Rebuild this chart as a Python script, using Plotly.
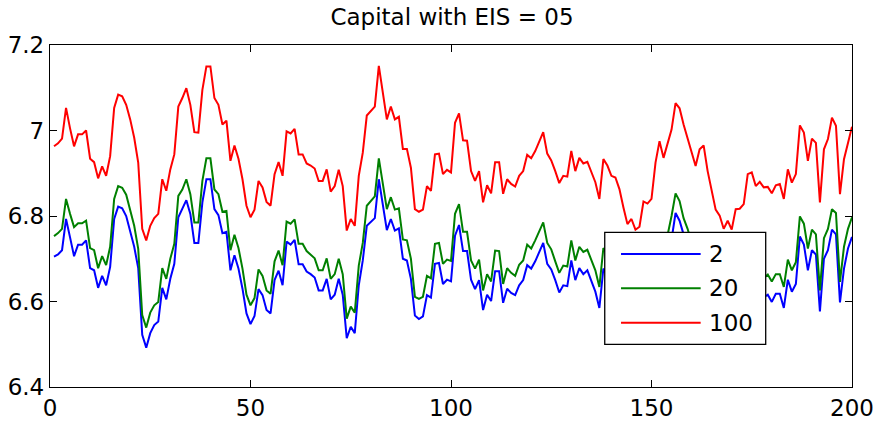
import plotly.graph_objects as go

# Capital paths for three levels of the EIS parameter, periods 1..200
periods = list(range(1, 201))

capital_2 = [
    6.705, 6.710, 6.720, 6.793, 6.750, 6.706, 6.733, 6.733, 6.743, 6.678,
    6.673, 6.632, 6.660, 6.638, 6.681, 6.793, 6.822, 6.818, 6.800, 6.766,
    6.728, 6.678, 6.522, 6.492, 6.526, 6.545, 6.553, 6.632, 6.605, 6.653,
    6.688, 6.797, 6.816, 6.837, 6.805, 6.737, 6.737, 6.832, 6.886, 6.886,
    6.816, 6.802, 6.760, 6.763, 6.673, 6.708, 6.677, 6.630, 6.572, 6.547,
    6.566, 6.629, 6.615, 6.580, 6.572, 6.650, 6.672, 6.638, 6.740, 6.733,
    6.744, 6.687, 6.687, 6.670, 6.664, 6.656, 6.626, 6.626, 6.653, 6.605,
    6.616, 6.653, 6.616, 6.514, 6.541, 6.526, 6.638, 6.696, 6.777, 6.787,
    6.795, 6.886, 6.828, 6.767, 6.793, 6.766, 6.771, 6.700, 6.696, 6.653,
    6.567, 6.559, 6.565, 6.615, 6.609, 6.688, 6.690, 6.641, 6.651, 6.647,
    6.754, 6.779, 6.718, 6.718, 6.651, 6.629, 6.650, 6.580, 6.616, 6.601,
    6.671, 6.671, 6.597, 6.630, 6.620, 6.615, 6.638, 6.650, 6.685, 6.677,
    6.694, 6.716, 6.737, 6.688, 6.675, 6.650, 6.621, 6.638, 6.636, 6.696,
    6.650, 6.678, 6.664, 6.673, 6.646, 6.623, 6.585, 6.677, 6.660, 6.640,
    6.633, 6.605, 6.565, 6.525, 6.535, 6.515, 6.520, 6.578, 6.572, 6.583,
    6.668, 6.718, 6.680, 6.710, 6.745, 6.807, 6.789, 6.757, 6.726, 6.695,
    6.660, 6.700, 6.708, 6.648, 6.602, 6.558, 6.545, 6.500, 6.532, 6.515,
    6.560, 6.560, 6.570, 6.640, 6.645, 6.613, 6.623, 6.610, 6.616, 6.599,
    6.618, 6.618, 6.585, 6.651, 6.623, 6.641, 6.752, 6.733, 6.673, 6.720,
    6.710, 6.577, 6.700, 6.720, 6.768, 6.757, 6.598, 6.677, 6.724, 6.751,
]

capital_20 = [
    6.753, 6.760, 6.770, 6.840, 6.805, 6.774, 6.783, 6.783, 6.789, 6.725,
    6.720, 6.678, 6.706, 6.685, 6.728, 6.840, 6.870, 6.866, 6.850, 6.816,
    6.777, 6.723, 6.568, 6.539, 6.574, 6.591, 6.599, 6.678, 6.653, 6.700,
    6.735, 6.847, 6.862, 6.886, 6.851, 6.785, 6.785, 6.882, 6.935, 6.935,
    6.862, 6.851, 6.810, 6.812, 6.720, 6.756, 6.725, 6.677, 6.616, 6.591,
    6.608, 6.675, 6.660, 6.626, 6.618, 6.694, 6.719, 6.685, 6.787, 6.782,
    6.792, 6.735, 6.735, 6.718, 6.709, 6.701, 6.673, 6.673, 6.701, 6.653,
    6.664, 6.700, 6.664, 6.560, 6.588, 6.574, 6.684, 6.737, 6.824, 6.835,
    6.846, 6.935, 6.878, 6.816, 6.844, 6.815, 6.818, 6.745, 6.743, 6.700,
    6.611, 6.606, 6.611, 6.660, 6.654, 6.735, 6.737, 6.688, 6.698, 6.695,
    6.805, 6.828, 6.763, 6.763, 6.696, 6.677, 6.698, 6.626, 6.664, 6.647,
    6.719, 6.718, 6.641, 6.678, 6.667, 6.660, 6.686, 6.696, 6.733, 6.724,
    6.743, 6.763, 6.785, 6.737, 6.722, 6.694, 6.667, 6.684, 6.682, 6.743,
    6.696, 6.728, 6.716, 6.721, 6.696, 6.673, 6.634, 6.725, 6.710, 6.685,
    6.680, 6.655, 6.610, 6.570, 6.585, 6.560, 6.565, 6.625, 6.620, 6.630,
    6.715, 6.760, 6.725, 6.755, 6.800, 6.853, 6.835, 6.795, 6.770, 6.740,
    6.705, 6.745, 6.755, 6.695, 6.650, 6.605, 6.590, 6.560, 6.580, 6.560,
    6.605, 6.610, 6.620, 6.690, 6.690, 6.660, 6.670, 6.655, 6.663, 6.647,
    6.664, 6.664, 6.634, 6.698, 6.673, 6.692, 6.799, 6.782, 6.724, 6.768,
    6.757, 6.626, 6.748, 6.770, 6.816, 6.807, 6.646, 6.728, 6.770, 6.797,
]

capital_100 = [
    6.963, 6.970, 6.981, 7.053, 7.005, 6.963, 6.991, 6.991, 7.000, 6.934,
    6.926, 6.888, 6.916, 6.894, 6.940, 7.053, 7.084, 7.080, 7.060, 7.026,
    6.983, 6.925, 6.770, 6.743, 6.777, 6.795, 6.805, 6.886, 6.859, 6.909,
    6.944, 7.056, 7.076, 7.099, 7.060, 6.996, 6.995, 7.095, 7.150, 7.150,
    7.076, 7.060, 7.014, 7.023, 6.929, 6.965, 6.934, 6.886, 6.824, 6.797,
    6.815, 6.882, 6.867, 6.833, 6.824, 6.898, 6.926, 6.894, 6.998, 6.993,
    7.004, 6.944, 6.944, 6.923, 6.918, 6.911, 6.882, 6.882, 6.909, 6.857,
    6.870, 6.908, 6.870, 6.766, 6.793, 6.777, 6.894, 6.948, 7.035, 7.045,
    7.056, 7.151, 7.088, 7.026, 7.056, 7.026, 7.032, 6.957, 6.957, 6.913,
    6.816, 6.810, 6.815, 6.870, 6.859, 6.944, 6.946, 6.898, 6.908, 6.902,
    7.018, 7.040, 6.977, 6.976, 6.905, 6.882, 6.905, 6.832, 6.872, 6.853,
    6.926, 6.926, 6.852, 6.886, 6.875, 6.869, 6.894, 6.905, 6.943, 6.935,
    6.952, 6.975, 6.996, 6.946, 6.930, 6.905, 6.877, 6.894, 6.892, 6.952,
    6.905, 6.936, 6.923, 6.927, 6.902, 6.879, 6.840, 6.933, 6.918, 6.894,
    6.890, 6.863, 6.820, 6.781, 6.793, 6.768, 6.775, 6.834, 6.829, 6.840,
    6.925, 6.975, 6.936, 6.967, 7.002, 7.064, 7.052, 7.014, 6.983, 6.952,
    6.917, 6.956, 6.965, 6.905, 6.859, 6.815, 6.801, 6.770, 6.789, 6.768,
    6.816, 6.817, 6.828, 6.898, 6.902, 6.870, 6.880, 6.867, 6.868, 6.853,
    6.872, 6.875, 6.840, 6.909, 6.878, 6.898, 7.012, 6.995, 6.929, 6.981,
    6.971, 6.832, 6.956, 6.980, 7.030, 7.011, 6.851, 6.933, 6.971, 7.009,
]

series_names = ["2", "20", "100"]
series_colors = ["#0000ff", "#008000", "#ff0000"]
series_values = [capital_2, capital_20, capital_100]

x_ticks = [0, 50, 100, 150, 200]
y_ticks = [6.4, 6.6, 6.8, 7.0, 7.2]

FONT = "DejaVu Sans, Verdana, sans-serif"
FONT_SIZE = 23

fig = go.Figure()
for name, color, values in zip(series_names, series_colors, series_values):
    fig.add_trace(go.Scatter(
        x=periods, y=values, mode="lines", name=name,
        line=dict(color=color, width=2), showlegend=False,
    ))

# Boxed legend in the lower right, drawn over the lines
lx0, lx1, ly0, ly1 = 0.6917, 0.8924, 0.1249, 0.4523
fig.add_shape(type="rect", xref="paper", yref="paper",
              x0=lx0, x1=lx1, y0=ly0, y1=ly1,
              fillcolor="white", line=dict(color="black", width=1.3),
              layer="above")
row_y = [0.3889, 0.2886, 0.188]
for name, color, yy in zip(series_names, series_colors, row_y):
    fig.add_shape(type="line", xref="paper", yref="paper",
                  x0=0.712, x1=0.8113, y0=yy, y1=yy,
                  line=dict(color=color, width=2), layer="above")
    fig.add_annotation(xref="paper", yref="paper", x=0.819, y=yy,
                       text=name, showarrow=False, xanchor="left",
                       yanchor="middle",
                       font=dict(family=FONT, size=FONT_SIZE, color="black"))

axis_common = dict(
    showgrid=False, zeroline=False, showline=True, linecolor="black",
    linewidth=1.3, mirror="ticks", ticks="inside", ticklen=7,
    tickwidth=1, tickcolor="black", automargin=False,
    tickfont=dict(family=FONT, size=FONT_SIZE, color="black"),
)

fig.update_layout(
    width=875, height=422,
    margin=dict(l=50, r=23, t=45, b=35),
    paper_bgcolor="white", plot_bgcolor="white",
    title=dict(text="Capital with EIS = 05", x=0.5166, xanchor="center",
               y=0.96, yanchor="middle",
               font=dict(family=FONT, size=FONT_SIZE, color="black")),
    xaxis=dict(range=[0, 200], tickvals=x_ticks, **axis_common),
    yaxis=dict(range=[6.4, 7.2], tickvals=y_ticks, **axis_common),
)

fig.write_html("out.html")
